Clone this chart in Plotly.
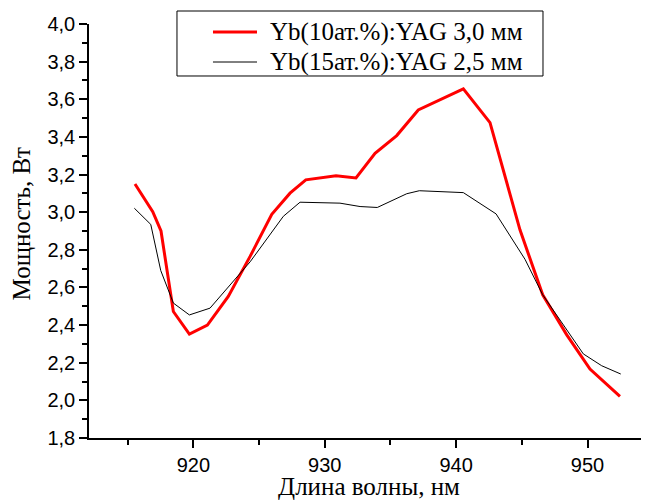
import plotly.graph_objects as go

# Yb(10 at.%):YAG 3.0 mm
wl_red = [915.56, 916.91, 917.54, 918.48, 919.70, 921.07, 922.66, 924.32, 925.97,
          927.36, 928.56, 930.86, 932.38, 933.83, 935.48, 937.12, 940.55, 942.58,
          944.86, 946.59, 948.42, 950.19, 952.47]
p_red = [3.150, 3.003, 2.900, 2.472, 2.352, 2.400, 2.552, 2.765, 2.989,
         3.101, 3.172, 3.194, 3.182, 3.313, 3.407, 3.543, 3.655, 3.476,
         2.906, 2.561, 2.348, 2.166, 2.021]

# Yb(15 at.%):YAG 2.5 mm
wl_blk = [915.51, 916.76, 917.52, 918.48, 919.70, 921.27, 924.32, 926.85, 928.12,
          931.16, 932.69, 934.00, 936.24, 937.20, 940.55, 943.04, 945.24, 946.59,
          949.68, 951.08, 952.53]
p_blk = [3.021, 2.935, 2.690, 2.517, 2.454, 2.490, 2.736, 2.978, 3.053,
         3.048, 3.030, 3.025, 3.098, 3.114, 3.104, 2.991, 2.750, 2.561,
         2.247, 2.184, 2.140]

name_red = "Yb(10ат.%):YAG 3,0 мм"
name_blk = "Yb(15ат.%):YAG 2,5 мм"
x_title = "Длина волны, нм"
y_title = "Мощность, Вт"

RED = "#ff0000"
BLACK = "#000000"
SERIF = "Liberation Serif"

fig = go.Figure()
fig.add_trace(go.Scatter(x=wl_red, y=p_red, mode="lines", name=name_red,
                         line=dict(color=RED, width=3), showlegend=False))
fig.add_trace(go.Scatter(x=wl_blk, y=p_blk, mode="lines", name=name_blk,
                         line=dict(color=BLACK, width=1), showlegend=False))

tickfont = dict(family="Liberation Sans", size=20, color="black")
titlefont = dict(family=SERIF, size=25, color="black")

# legend drawn in paper coordinates (box, samples, labels)
leg_x0, leg_x1, leg_y0, leg_y1 = 0.1571, 0.8107, 0.8744, 1.0314
samp_x0, samp_x1, text_x = 0.2214, 0.300, 0.3196
rows = [(0.9807, RED, 3, name_red), (0.9082, BLACK, 1, name_blk)]

shapes = [dict(type="rect", xref="paper", yref="paper", x0=leg_x0, x1=leg_x1,
               y0=leg_y0, y1=leg_y1, line=dict(color="black", width=1),
               fillcolor="white", layer="above")]
annotations = []
for ry, col, w, label in rows:
    shapes.append(dict(type="line", xref="paper", yref="paper", x0=samp_x0, x1=samp_x1,
                       y0=ry, y1=ry, line=dict(color=col, width=w), layer="above"))
    annotations.append(dict(xref="paper", yref="paper", x=text_x, y=ry, text=label,
                            showarrow=False, xanchor="left", yanchor="middle",
                            font=dict(family=SERIF, size=25, color="black")))

# y-axis title as a rotated annotation
annotations.append(dict(xref="paper", yref="paper", x=0, y=0.516, xshift=-68,
                        text=y_title, textangle=-90, showarrow=False,
                        xanchor="center", yanchor="middle", font=titlefont))

fig.update_layout(
    width=641, height=492,
    margin=dict(l=81, r=0, t=16, b=62),
    paper_bgcolor="white", plot_bgcolor="white",
    separators=", ",
    showlegend=False,
    shapes=shapes, annotations=annotations,
)
fig.update_xaxes(
    range=[912.06, 954.68], showgrid=False, zeroline=False, automargin=False,
    showline=True, linecolor="black", linewidth=1.5,
    ticks="outside", ticklen=8, tickwidth=1.5, tickcolor="black",
    dtick=10, tick0=920, tickformat="d", tickfont=tickfont,
    minor=dict(ticks="outside", ticklen=5, tickwidth=1.5, tickcolor="black", dtick=5, tick0=915),
    title=dict(text=x_title, font=titlefont),
)
fig.update_yaxes(
    range=[1.8, 4.0], showgrid=False, zeroline=False, automargin=False,
    showline=True, linecolor="black", linewidth=1.5,
    ticks="outside", ticklen=8, tickwidth=1.5, tickcolor="black",
    dtick=0.2, tick0=1.8, tickformat=".1f", tickfont=tickfont,
    minor=dict(ticks="outside", ticklen=5, tickwidth=1.5, tickcolor="black", dtick=0.1),
)

fig.write_html("out.html")
